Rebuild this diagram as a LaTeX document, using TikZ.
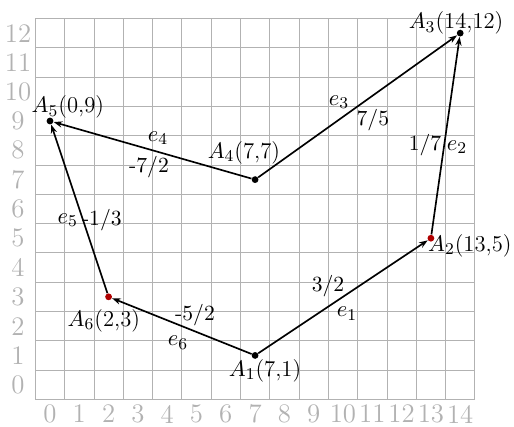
\documentclass[tikz,border=0pt]{standalone}
\usepackage{amsmath, amssymb}
\usepackage{xcolor}
\usepackage{tikz}
\usetikzlibrary{arrows.meta}

\definecolor{ptred}{RGB}{175,0,0}
\tikzset{
  gridline/.style={black!30, line width=0.4pt},
  axlab/.style={text=black!30, font=\fontsize{13}{15}\selectfont},
  pt/.style={circle, fill=black, inner sep=0pt, minimum size=3.3pt},
  ptred/.style={pt, fill=ptred},
  edge/.style={line width=0.8pt, -{Stealth[length=4.2pt, width=3pt]}},
  vlab/.style={font=\fontsize{11}{13}\selectfont},
  slope/.style={font=\fontsize{10.5}{12}\selectfont},
}

\begin{document}
\begin{tikzpicture}[x=0.5cm, y=0.5cm]
    \useasboundingbox (-1.706,-1.436) rectangle (15.836,13.13);

    % 1. Lưới ô vuông (lệch nửa ô so với các số)
    \foreach \i in {0,...,15}
        \draw[gridline] (\i-0.5,-0.5) -- (\i-0.5,12.5);
    \foreach \j in {0,...,13}
        \draw[gridline] (-0.5,\j-0.5) -- (14.5,\j-0.5);

    % Số trên trục hoành và trục tung
    \foreach \i in {0,...,14}
        \node[axlab] (x\i) at (\i,-1) {\i};
    \foreach \j in {0,...,12}
        \node[axlab] (y\j) at (-1.09,\j) {\j};

    % 2. Các đỉnh
    \node[pt] (a1) at (7,1) {};
    \node[ptred] (a2) at (13,5) {};
    \node[pt] (a3) at (14,12) {};
    \node[pt] (a4) at (7,7) {};
    \node[pt] (a5) at (0,9) {};
    \node[ptred] (a6) at (2,3) {};

    % Tên các đỉnh
    \node[vlab] (l1) at (7.34,0.48) {$A_1$(7,1)};
    \node[vlab] (l2) at (14.33,4.75) {$A_2$(13,5)};
    \node[vlab] (l3) at (13.86,12.34) {$A_3$(14,12)};
    \node[vlab] (l4) at (6.62,7.93) {$A_4$(7,7)};
    \node[vlab] (l5) at (0.61,9.47) {$A_5$(0,9)};
    \node[vlab] (l6) at (1.84,2.19) {$A_6$(2,3)};

    % 3. Các cạnh có hướng
    \draw[edge] (a1) -- (a2);
    \draw[edge] (a2) -- (a3);
    \draw[edge] (a4) -- (a3);
    \draw[edge] (a4) -- (a5);
    \draw[edge] (a6) -- (a5);
    \draw[edge] (a1) -- (a6);

    % Tên cạnh và hệ số góc
    \node[vlab] (e1) at (10.14,2.43) {$e_1$};
    \node[slope] (k1) at (9.49,3.35) {3/2};
    \node[vlab] (e2) at (13.89,8.10) {$e_2$};
    \node[slope] (k2) at (12.80,8.17) {1/7};
    \node[vlab] (e3) at (9.86,9.64) {$e_3$};
    \node[slope] (k3) at (11.02,9.03) {7/5};
    \node[vlab] (e4) at (3.69,8.41) {$e_4$};
    \node[slope] (k4) at (3.38,7.42) {-7/2};
    \node[vlab] (e5) at (0.61,5.61) {$e_5$};
    \node[slope] (k5) at (1.77,5.61) {-1/3};
    \node[vlab] (e6) at (4.37,1.44) {$e_6$};
    \node[slope] (k6) at (4.95,2.39) {-5/2};

\end{tikzpicture}
\end{document}
